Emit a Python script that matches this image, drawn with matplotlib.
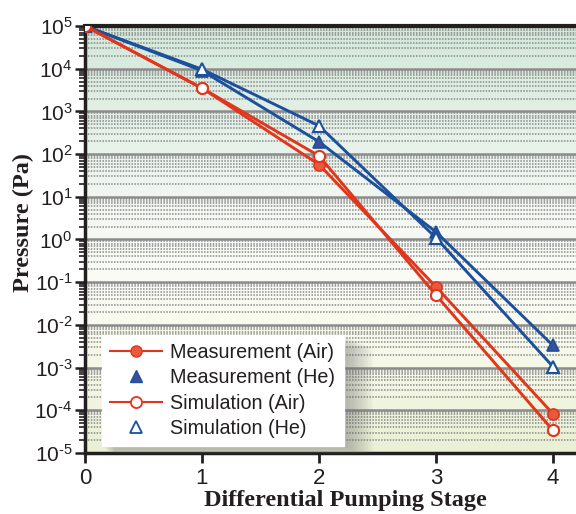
import numpy as np
import matplotlib
matplotlib.use('Agg')
import matplotlib.pyplot as plt
from matplotlib.lines import Line2D
from matplotlib.patches import Rectangle
from matplotlib.colors import LinearSegmentedColormap
from matplotlib.ticker import FixedLocator, NullFormatter, FixedFormatter

# ---- data ----
stages = [0, 1, 2, 3, 4]
meas_air = [1e5, 3.5e3, 57, 0.078, 8.3e-5]
meas_he = [1e5, 9.0e3, 195, 1.5, 3.3e-3]
sim_air = [1e5, 3.5e3, 91, 0.05, 3.4e-5]
sim_he = [1e5, 9.7e3, 460, 1.1, 1.05e-3]
xticks = [0, 1, 2, 3, 4]
ydecades = list(range(-5, 6))
legend_labels = ['Measurement (Air)', 'Measurement (He)',
                 'Simulation (Air)', 'Simulation (He)']

RED = '#e2361c'
RED_FILL = '#e95a3c'
BLUE = '#1c4f9c'
BLUE_FILL = '#3b4f98'
TXT = '#231f20'

plt.rcParams['font.family'] = ['Liberation Sans', 'DejaVu Sans']
plt.rcParams['mathtext.fontset'] = 'custom'
plt.rcParams['mathtext.rm'] = 'Liberation Sans'
plt.rcParams['mathtext.it'] = 'Liberation Sans'

fig = plt.figure(figsize=(5.76, 5.14), dpi=100)
ax = fig.add_axes([85/576, 1-453/514, 1-85/576, (453-26)/514])

# background gradient
cmap = LinearSegmentedColormap.from_list('bg', [
    (0.0, '#e9f0d4'), (0.2, '#f5f8e7'), (0.4, '#fbfcf6'),
    (0.5, '#f7faf4'), (0.65, '#edf5ee'), (0.82, '#e0eee4'), (1.0, '#d3e8da')])
grad = np.linspace(0, 1, 256).reshape(-1, 1)
ax.imshow(grad, cmap=cmap, aspect='auto', extent=[0, 1, 0, 1],
          transform=ax.transAxes, origin='lower', zorder=0)

ax.set_yscale('log')
ax.set_xlim(0, 4.197)
ax.set_ylim(1e-5, 1e5)

# grid
major = [10.0**d for d in ydecades]
minor = [m * 10.0**d for d in ydecades[:-1] for m in range(2, 10)]
ax.yaxis.set_major_locator(FixedLocator(major))
ax.yaxis.set_minor_locator(FixedLocator(minor))
ax.yaxis.set_major_formatter(FixedFormatter(
    [r'$\mathregular{10^{%s}}$' % (str(d).replace('-', '\u2010')) for d in ydecades]))
ax.yaxis.set_minor_formatter(NullFormatter())
ax.set_axisbelow(True)
ax.grid(True, which='major', axis='y', color='#8c8c8c', lw=1.8, zorder=0.5)
ax.grid(True, which='minor', axis='y', color='#8a8a8a', lw=1.1,
        linestyle=(0, (1.0, 0.9)), zorder=0.5)
ax.grid(False, axis='x')

# data lines
lw = 2.1
ax.plot(stages, meas_he, color=BLUE, lw=lw, marker='^', ms=9,
        mfc=BLUE_FILL, mec=BLUE, mew=1.2, zorder=3)
ax.plot(stages, sim_he, color=BLUE, lw=lw, marker='^', ms=9,
        mfc='white', mec=BLUE, mew=1.5, zorder=3)
ax.plot(stages, meas_air, color=RED, lw=lw, marker='o', ms=8,
        mfc=RED_FILL, mec=RED, mew=1.2, zorder=3)
ax.plot(stages, sim_air, color=RED, lw=lw, marker='o', ms=8,
        mfc='white', mec=RED, mew=1.5, zorder=3)

# axes styling
for s in ['left', 'bottom', 'top']:
    ax.spines[s].set_color(TXT)
    ax.spines[s].set_linewidth(2.5)
ax.spines['top'].set_linewidth(3)
ax.spines['right'].set_visible(False)

ax.set_xticks(xticks)
ax.set_xticklabels([str(v) for v in xticks])
ax.tick_params(axis='x', which='major', direction='out', length=7, width=2,
               color=TXT, labelsize=16, labelcolor=TXT, pad=4)
ax.tick_params(axis='y', which='major', direction='out', length=7, width=1.8,
               color=TXT, labelsize=15, labelcolor=TXT, pad=2)
ax.tick_params(axis='y', which='minor', direction='out', length=4, width=1.2,
               color=TXT)

fig.text(345/576, 1-506/514, 'Differential Pumping Stage', family='Liberation Serif',
         fontweight='bold', fontsize=17.5, color=TXT, ha='center', va='baseline')
fig.text(23/576, 1-222/514, 'Pressure (Pa)', family='Liberation Serif',
         fontweight='bold', fontsize=17.5, color=TXT, ha='center', va='center',
         rotation=90)

# legend
handles = [
    Line2D([], [], color=RED, lw=1.5, marker='o', ms=8, mfc=RED_FILL, mec=RED, mew=1.0),
    Line2D([], [], color=BLUE, lw=0, marker='^', ms=8, mfc=BLUE_FILL, mec=BLUE, mew=1.0),
    Line2D([], [], color=RED, lw=1.5, marker='o', ms=8, mfc='white', mec=RED, mew=1.3),
    Line2D([], [], color=BLUE, lw=0, marker='^', ms=8, mfc='white', mec=BLUE, mew=1.3),
]
leg = ax.legend(handles, legend_labels, loc='upper left',
                bbox_to_anchor=((102-85)/491, (453-335)/427), borderaxespad=0,
                fontsize=14.2, frameon=True, fancybox=False, framealpha=1,
                edgecolor='white', facecolor='white', handlelength=2.6,
                handletextpad=0.45, labelspacing=0.31, borderpad=0.42)
leg.set_zorder(6)
for t in leg.get_texts():
    t.set_color(TXT)

# soft shadow behind legend
fig.canvas.draw()
bb = leg.get_frame().get_window_extent()
inv = ax.transAxes.inverted()
(x0, y0), (x1, y1) = inv.transform([[bb.x0, bb.y0], [bb.x1, bb.y1]])
pxw = 1/491
pxh = 1/427
for i in range(1, 14):
    off = i * 1.6
    r = Rectangle((x0 + off*pxw*0.6, y0 - off*pxh*0.6), (x1 - x0) + off*pxw*0.8,
                  (y1 - y0), transform=ax.transAxes, facecolor='#6e6e6e',
                  edgecolor='none', alpha=0.045, zorder=5)
    ax.add_patch(r)

fig.savefig('out.png', dpi=100)
